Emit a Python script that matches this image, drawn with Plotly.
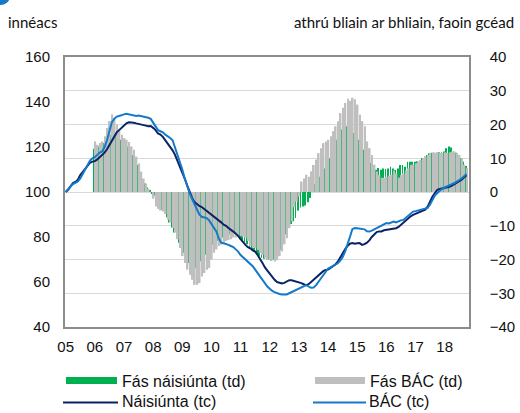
import plotly.graph_objects as go

# ---------------- data ----------------
year_ticks = list(range(2005, 2019))
tick_labels = ["05", "06", "07", "08", "09", "10", "11", "12", "13", "14", "15", "16", "17", "18"]

# Monthly index, Jan 2005 = 100 (Jan 2005 - Oct 2018)
nat_index = [
    100, 101, 102.5, 104, 104.5, 105.5, 107.5, 109, 110.5, 112, 113, 113.5,
    113.7, 114.5, 115.5, 116.5, 117.5, 119, 121, 123, 125, 126.5, 127.5, 128.5,
    129.5, 130.5, 131, 131, 130.8, 130.5, 130.3, 130, 130, 129.5, 129.2, 129.3,
    128.5, 127.5, 126, 125.5, 124.5, 123, 122, 120.5, 118.5, 116.5, 114, 111.5,
    109, 106, 103, 100, 97.5, 95.5, 94.5, 93.8, 93.3, 92.5, 91.5, 90.5,
    90, 89.2, 88.5, 87.5, 86.5, 85.5, 85, 84, 83, 82.4, 81.5, 80.5,
    79, 77.5, 76.5, 75.5, 75, 74, 73.5, 72, 70.5, 68.5, 66.5, 65,
    63.5, 62, 61, 60, 59.6, 59.4, 59.6, 60.2, 60.8, 60.8, 60.5, 60.2,
    60, 59.5, 59, 58.6, 59, 60, 61, 62, 63, 64, 64.8, 65.3,
    65.5, 66.3, 67, 67.8, 69, 71, 73, 74.5, 76, 77, 77.3, 77,
    77.2, 77.3, 76.5, 76.8, 77.5, 78.5, 80, 81, 82.2, 82.5, 82.5, 83,
    83.2, 83.2, 83.4, 83.6, 83.9, 84.5, 85.5, 86.5, 87.5, 88.5, 89.2, 89.8,
    90.3, 90.6, 91, 91.5, 92.1, 93.5, 96, 98, 99.5, 101, 101.3, 101.5,
    101.8, 102, 102.3, 102.8, 103.5, 104.2, 104.7, 105.5, 106.5, 107.4,
]
dub_index = [
    100, 101.5, 102.5, 103.5, 104, 104.7, 106, 108, 110, 112, 114, 115,
    115.5, 116.5, 117.5, 118, 120, 123, 127, 131, 132.5, 133.5, 133.8, 134,
    134.5, 134.8, 134.6, 134.3, 134, 133.8, 134, 133.8, 133.5, 133.2, 133, 132.5,
    131, 129, 127.5, 127, 126.5, 125.5, 124.8, 124, 123, 120, 117, 114,
    110, 106, 102.5, 99.5, 97, 94.5, 92, 90, 89, 88.6, 88.4, 87.5,
    86, 84.5, 82.5, 79.5, 77.5, 77.2, 77, 76.5, 76, 75.5, 74.5, 73.5,
    72, 71, 70, 69, 68, 67, 65.5, 64, 62, 60.5, 59, 58,
    57, 56, 55.5, 55, 54.7, 54.5, 54.5, 54.5, 55, 55.5, 56, 56.5,
    57, 57.5, 58.2, 58.6, 58, 57.4, 57.5, 58.5, 60, 61.5, 63, 64.5,
    66, 66.5, 67, 67.5, 68.3, 69.5, 71, 73.5, 76.5, 80, 83.5, 84,
    83.9, 83.7, 83.6, 83.4, 82.5, 82.4, 82.8, 83.2, 83.9, 84.5, 85, 85.5,
    86.2, 86, 86.5, 86.9, 86.5, 87, 87.4, 87.6, 88.5, 89.5, 90.5, 91.3,
    91.5, 91.8, 92.1, 92.3, 92.6, 92.9, 94.5, 96.5, 98.5, 99.5, 100.5, 101.5,
    102, 102.6, 103.1, 103.5, 104, 104.6, 105.2, 106, 107, 108,
]

# Year-on-year growth, % (Jan 2006 - Oct 2018)
nat_growth = [
    12.8, 13, 13.5, 14, 14.5, 15.5, 16.5, 17, 17, 16.5, 16, 15.5,
    15, 14.6, 13.5, 12.5, 11, 9.5, 8, 6, 3.6, 2.5, 1.3, 0.5,
    -0.5, -1, -2.5, -4, -5.3, -6.2, -7.5, -9, -10.5, -12, -13.5, -15,
    -16.6, -18, -19.5, -21, -22, -22.5, -22.5, -21.5, -20.5, -19.5, -18.6, -17.5,
    -16.5, -15.6, -15, -14.5, -14, -13.5, -13.2, -13, -12.5, -12.2, -12.2, -12.5,
    -14, -14.6, -14.8, -15.5, -16.5, -17.2, -17.8, -18.5, -19, -19.5, -19.8, -20,
    -20, -20.3, -20, -19.5, -18.5, -17, -14.5, -12.5, -10.7, -9.5, -8.7, -7.7,
    -5.5, -4.6, -4.3, -4, -3, -1.8, 1, 2.3, 3.5, 4.5, 5.6, 7,
    8.5, 10, 12, 14, 15.5, 17, 18.5, 19.5, 19.5, 18.5, 18, 17.5,
    16.5, 15.5, 13.5, 12.5, 13, 11, 8.7, 7.5, 6.6, 7.1, 6.6, 7,
    6.8, 7, 7.5, 7, 6.5, 7, 8, 8, 7.5, 9, 9, 9,
    9, 9.1, 9.5, 10.1, 10.5, 11, 11.5, 11.6, 11.6, 11.6, 11.8, 11.8,
    12, 13, 13.5, 13.2, 12, 11.6, 11, 10, 9, 7.7,
]
dub_growth = [
    15, 14, 14.5, 15, 16.5, 19, 21, 23, 22, 20, 18.5, 17,
    16, 15.5, 14.8, 13.5, 12.5, 10.5, 8.5, 6, 4, 2.5, 1, 0,
    -2, -4.3, -5, -5.5, -5.8, -6.5, -8.2, -9, -10.7, -12, -14, -16.6,
    -19, -21, -23, -24.5, -26, -27.5, -27.5, -27, -25, -24, -23, -22.5,
    -20, -18, -17, -16, -15.6, -15, -14.5, -14.2, -14, -13.5, -13.5, -13.2,
    -13, -13.2, -13.5, -14.5, -16, -16.6, -16.6, -17.2, -18, -18.6, -19.6, -20,
    -20.1, -20.3, -20.6, -20.2, -19, -17.6, -15.5, -13.7, -10.7, -8.7, -4.5, -2.8,
    -1.3, 3.1, 4, 5.1, 4.5, 6.1, 8, 9.6, 11.5, 13, 14.5, 15,
    15.5, 16.5, 18, 19.5, 21, 23.4, 25, 26.4, 27.6, 27, 27.9, 27.5,
    25.9, 22.9, 21, 19.5, 15, 13, 11, 8.1, 6.1, 5, 4.2, 4.2,
    4.5, 4.8, 5.1, 6.4, 5.5, 4.2, 5, 5.5, 6.4, 7, 8.1, 8.1,
    8.5, 9.1, 9.5, 10.1, 10.5, 11, 11.6, 11.6, 11.6, 11.8, 11.6, 11.6,
    11.8, 11.6, 11.8, 12, 12, 11.5, 11, 10, 8.1, 7.1,
]

# month positions (decimal years)
x_index = [2005 + i / 12 for i in range(len(nat_index))]
x_growth = [2006 + i / 12 for i in range(len(nat_growth))]

GREEN = "#00B050"
GREY = "#BFBFBF"
NAVY = "#0B2366"
BLUE = "#1479C9"
TICKFONT = dict(family="Liberation Sans, Arial, sans-serif", size=15, color="#111111")

MONTH = 1 / 12
fig = go.Figure()
fig.add_trace(go.Bar(x=x_growth, y=nat_growth, width=0.3 * MONTH, offset=-0.5 * MONTH,
                     marker=dict(color=GREEN, line=dict(width=0)),
                     name="Fás náisiúnta (td)", yaxis="y"))
fig.add_trace(go.Bar(x=x_growth, y=dub_growth, width=0.7 * MONTH, offset=-0.2 * MONTH,
                     marker=dict(color=GREY, line=dict(width=0)),
                     name="Fás BÁC (td)", yaxis="y"))
fig.add_trace(go.Scatter(x=x_index, y=nat_index, mode="lines", line=dict(color=NAVY, width=2),
                         name="Náisiúnta (tc)", yaxis="y2"))
fig.add_trace(go.Scatter(x=x_index, y=dub_index, mode="lines", line=dict(color=BLUE, width=2),
                         name="BÁC (tc)", yaxis="y2"))

# ---- layout geometry (pixels) ----
W, H = 520, 413
L, R, T, B = 65, 469, 57, 327
pw, ph = R - L, B - T


def px(xp):
    return (xp - L) / pw


def py(yp):
    return (B - yp) / ph


shapes = [
    dict(type="line", xref="paper", yref="paper", x0=px(66), x1=px(117), y0=py(380.5), y1=py(380.5),
         line=dict(color=GREEN, width=7)),
    dict(type="line", xref="paper", yref="paper", x0=px(315), x1=px(365), y0=py(380.5), y1=py(380.5),
         line=dict(color=GREY, width=7)),
    dict(type="line", xref="paper", yref="paper", x0=px(63), x1=px(118), y0=py(402.5), y1=py(402.5),
         line=dict(color=NAVY, width=2)),
    dict(type="line", xref="paper", yref="paper", x0=px(313), x1=px(366), y0=py(402.5), y1=py(402.5),
         line=dict(color=BLUE, width=2)),
    dict(type="circle", xref="paper", yref="paper", x0=px(-8), x1=px(10), y0=py(5), y1=py(-13),
         fillcolor="#1479C9", line=dict(width=0)),
]
LEGFONT = dict(family="Liberation Sans, Arial, sans-serif", size=16, color="#111111")
TITLEFONT = dict(family="Lato, sans-serif", size=15, color="#111111")
annotations = [
    dict(text="Fás náisiúnta (td)", x=px(120), y=py(381), xref="paper", yref="paper",
         xanchor="left", yanchor="middle", showarrow=False, font=LEGFONT),
    dict(text="Fás BÁC (td)", x=px(368), y=py(381), xref="paper", yref="paper",
         xanchor="left", yanchor="middle", showarrow=False, font=LEGFONT),
    dict(text="Náisiúnta (tc)", x=px(120), y=py(401), xref="paper", yref="paper",
         xanchor="left", yanchor="middle", showarrow=False, font=LEGFONT),
    dict(text="BÁC (tc)", x=px(367), y=py(401), xref="paper", yref="paper",
         xanchor="left", yanchor="middle", showarrow=False, font=LEGFONT),
    dict(text="innéacs", x=px(6), y=py(22), xref="paper", yref="paper",
         xanchor="left", yanchor="middle", showarrow=False, font=TITLEFONT),
    dict(text="athrú bliain ar bhliain, faoin gcéad", x=px(516), y=py(22), xref="paper", yref="paper",
         xanchor="right", yanchor="middle", showarrow=False, font=TITLEFONT),
]

fig.update_layout(
    width=W, height=H,
    margin=dict(l=L, r=W - R, t=T, b=H - B, pad=0, autoexpand=False),
    paper_bgcolor="white", plot_bgcolor="white",
    barmode="overlay",
    showlegend=False,
    shapes=shapes, annotations=annotations,
    xaxis=dict(range=[2004.976, 2018.835], tickmode="array", tickvals=year_ticks, ticktext=tick_labels,
               showgrid=False, zeroline=False, showline=True, mirror=True, linecolor="#8C8C8C",
               linewidth=1.5, ticks="", tickfont=TICKFONT, ticklabelstandoff=5, automargin=False),
    yaxis=dict(range=[-40, 40], dtick=10, side="right", showgrid=True, gridcolor="#D9D9D9", gridwidth=1.2,
               zeroline=False, showline=True, mirror=True, linecolor="#8C8C8C", linewidth=1.5,
               ticks="", tickfont=TICKFONT, ticklabelstandoff=16, automargin=False),
    yaxis2=dict(range=[40, 160], dtick=20, side="left", overlaying="y", showgrid=False, zeroline=False,
                ticks="", tickfont=TICKFONT, ticklabelstandoff=14, automargin=False),
)

fig.write_html("out.html", config={"displayModeBar": False},
               post_script="document.body.style.margin='0';")
